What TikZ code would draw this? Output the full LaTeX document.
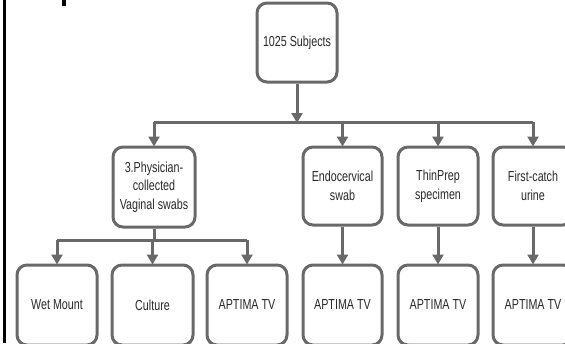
\documentclass[tikz,border=0pt]{standalone}
\usepackage{fontspec}
\setmainfont{Liberation Sans}[FakeStretch=0.74]
\usetikzlibrary{arrows.meta}
\definecolor{linegray}{RGB}{105,105,105}
\definecolor{textgray}{RGB}{40,40,40}
\tikzset{
  box/.style={draw=linegray, line width=3pt, rounded corners=10pt, align=center,
    text=textgray, font=\fontsize{14.5}{18.5}\selectfont, inner sep=0pt},
  conn/.style={draw=linegray, line width=3pt},
  arr/.style={conn, -{Triangle[width=11pt,length=10pt]}, shorten >=-1pt},
}
\begin{document}
\begin{tikzpicture}[x=1pt,y=-1pt]
\useasboundingbox (0,0) rectangle (565,343);
% frame marks
\draw[line width=3pt] (4.5,0) -- (4.5,343);
\draw[line width=4pt] (63.5,0) -- (63.5,6);
% level 0
\node[box, minimum width=80pt, minimum height=79pt] (top) at (297,42.5) {1025 Subjects};
% level 1
\node[box, minimum width=82pt, minimum height=80pt] (phys) at (154,187) {3.Physician-\\collected\\Vaginal swabs};
\node[box, minimum width=79pt, minimum height=78pt] (endo) at (342.5,186) {Endocervical\\swab};
\node[box, minimum width=80pt, minimum height=78pt] (thin) at (438,186) {ThinPrep\\specimen};
\node[box, minimum width=80pt, minimum height=78pt] (first) at (533,186) {First-catch\\urine};
% level 2
\node[box, minimum width=80pt, minimum height=80pt] (wet) at (57,305) {Wet Mount};
\node[box, minimum width=81pt, minimum height=80pt] (cult) at (152.5,305) {Culture};
\node[box, minimum width=80pt, minimum height=80pt] (apt1) at (247,305) {APTIMA TV};
\node[box, minimum width=79pt, minimum height=80pt] (apt2) at (342.5,305) {APTIMA TV};
\node[box, minimum width=80pt, minimum height=80pt] (apt3) at (438,305) {APTIMA TV};
\node[box, minimum width=80pt, minimum height=80pt] (apt4) at (533,305) {APTIMA TV};
% bus coordinates
\coordinate (b0) at (297,122);
\coordinate (b1) at (154,122);
\coordinate (b2) at (342.5,122);
\coordinate (b3) at (438,122);
\coordinate (b4) at (533,122);
\coordinate (s0) at (154,240);
\coordinate (s1) at (57,240);
\coordinate (s2) at (152.5,240);
\coordinate (s3) at (247,240);
% connectors
\draw[arr] (top.south) -- (b0);
\draw[conn] (b1) -- (b4);
\draw[arr] (b1) -- (phys.north);
\draw[arr] (b2) -- (endo.north);
\draw[arr] (b3) -- (thin.north);
\draw[arr] (b4) -- (first.north);
\draw[conn] (phys.south) -- (s0);
\draw[conn] (s1) -- (s3);
\draw[arr] (s1) -- (wet.north);
\draw[arr] (s2) -- (cult.north);
\draw[arr] (s3) -- (apt1.north);
\draw[arr] (endo.south) -- (apt2.north);
\draw[arr] (thin.south) -- (apt3.north);
\draw[arr] (first.south) -- (apt4.north);
\end{tikzpicture}
\end{document}
